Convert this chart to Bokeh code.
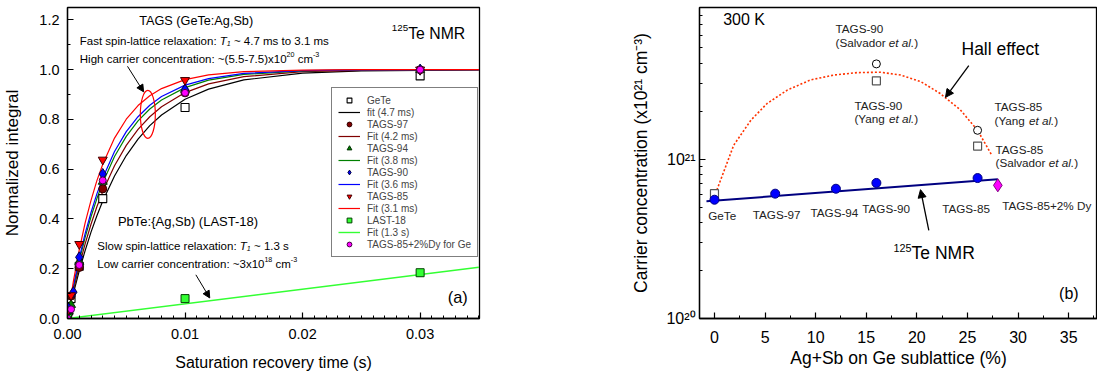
from bokeh.plotting import figure
from bokeh.models import (Label, Arrow, NormalHead, Legend, LegendItem, SingleIntervalTicker,
                          FixedTicker, NumeralTickFormatter, CustomJSTickFormatter, Range1d)
from bokeh.layouts import row
from bokeh.embed import file_html
from bokeh.resources import INLINE

FONT = "Liberation Sans"

# ---------------- data: panel (a) ----------------
gete_t = [0, 0.0001, 0.0003, 0.001, 0.003, 0.01, 0.03]
gete_y = [0.0, 0.03, 0.08, 0.21, 0.482, 0.848, 0.975]
t97_t = [0, 0.0001, 0.0003, 0.001, 0.003, 0.01, 0.03]
t97_y = [0.0, 0.035, 0.09, 0.205, 0.521, 0.907, 1.0]
t94_t = [0, 0.0001, 0.0003, 0.001, 0.003, 0.01, 0.03]
t94_y = [0.0, 0.03, 0.055, 0.228, 0.55, 0.92, 1.0]
t90_t = [0, 0.0001, 0.0005, 0.001, 0.003, 0.01, 0.03]
t90_y = [0.0, 0.04, 0.106, 0.246, 0.581, 0.92, 1.0]
t85_t = [0, 0.0001, 0.0003, 0.001, 0.003, 0.01, 0.03]
t85_y = [0.0, 0.035, 0.093, 0.299, 0.638, 0.958, 1.0]
last_t = [0, 0.01, 0.03]
last_y = [0.0, 0.08, 0.184]
dy_t = [0, 0.0003, 0.001, 0.003, 0.01, 0.03]
dy_y = [0.0, 0.037, 0.215, 0.555, 0.907, 1.0]

fit_t = [0, 0.0005, 0.001, 0.0015, 0.002, 0.0025, 0.003, 0.004, 0.005, 0.006,
         0.007, 0.008, 0.01, 0.012, 0.015, 0.02, 0.025, 0.035]
fit_gete = [0, 0.101, 0.192, 0.273, 0.347, 0.413, 0.472, 0.573, 0.655, 0.721,
            0.775, 0.818, 0.881, 0.922, 0.959, 0.986, 0.995, 0.999]
fit_97 = [0, 0.112, 0.212, 0.300, 0.379, 0.449, 0.511, 0.614, 0.696, 0.760,
          0.811, 0.851, 0.908, 0.943, 0.972, 0.992, 0.997, 1.0]
fit_94 = [0, 0.123, 0.231, 0.326, 0.409, 0.482, 0.546, 0.651, 0.732, 0.794,
          0.842, 0.878, 0.928, 0.958, 0.981, 0.995, 0.999, 1.0]
fit_90 = [0, 0.130, 0.243, 0.341, 0.426, 0.501, 0.565, 0.671, 0.751, 0.811,
          0.857, 0.892, 0.938, 0.964, 0.985, 0.996, 0.999, 1.0]
fit_85 = [0, 0.149, 0.276, 0.384, 0.475, 0.554, 0.620, 0.725, 0.801, 0.856,
          0.895, 0.924, 0.960, 0.979, 0.992, 0.998, 1.0, 1.0]
fit_last_t = [0, 0.035]
fit_last_y = [0.0, 0.206]

legend_labels = ["GeTe", "fit (4.7 ms)", "TAGS-97", "Fit (4.2 ms)", "TAGS-94", "Fit (3.8 ms)",
                 "TAGS-90", "Fit (3.6 ms)", "TAGS-85", "Fit (3.1 ms)", "LAST-18", "Fit (1.3 s)",
                 "TAGS-85+2%Dy for Ge"]

# ---------------- data: panel (b) ----------------
nmr_x = [0, 6, 12, 16, 26]
nmr_n = [5.57e20, 6.08e20, 6.53e20, 7.1e20, 7.62e20]
nmr_fit_x = [-0.79, 28.0]
nmr_fit_n = [5.45e20, 7.48e20]
dy_x = [28]
dy_n = [6.86e20]
hall_circ_x = [16, 26]
hall_circ_n = [3.97e21, 1.52e21]
hall_sq_x = [0, 16, 26]
hall_sq_n = [6.08e20, 3.11e21, 1.21e21]
hall_curve_x = [0.1, 1.9, 3.6, 5.2, 7.2, 9.5, 11.8, 14.1, 16.4, 18.4, 20.4, 22.3, 24.3, 26.0, 27.4]
hall_curve_n = [6.08e20, 1.225e21, 1.76e21, 2.24e21, 2.72e21, 3.15e21, 3.38e21, 3.5e21,
                3.52e21, 3.38e21, 3.07e21, 2.59e21, 2.04e21, 1.52e21, 1.06e21]

# ---------------- helpers ----------------
W = {' ': 278, '!': 278, '(': 333, ')': 333, '+': 584, ',': 278, '-': 333, '.': 278, ':': 278,
     '~': 584, '%': 889, '{': 334, '}': 334, '/': 278,
     'A': 667, 'B': 667, 'C': 722, 'D': 722, 'E': 667, 'F': 611, 'G': 778, 'H': 722, 'I': 278,
     'J': 500, 'K': 667, 'L': 556, 'M': 833, 'N': 722, 'O': 778, 'P': 667, 'Q': 778, 'R': 722,
     'S': 667, 'T': 611, 'U': 722, 'V': 667, 'W': 944, 'X': 667, 'Y': 667, 'Z': 611,
     'a': 556, 'b': 556, 'c': 500, 'd': 556, 'e': 556, 'f': 278, 'g': 556, 'h': 556, 'i': 222,
     'j': 222, 'k': 500, 'l': 222, 'm': 833, 'n': 556, 'o': 556, 'p': 556, 'q': 556, 'r': 333,
     's': 500, 't': 278, 'u': 556, 'v': 500, 'w': 722, 'x': 500, 'y': 500, 'z': 500}


def tw(s, size):
    return sum(W.get(c, 556) for c in s) * size / 1000.0


def rich(p, x, y, runs, size, align="left", color="black", sup_dy=0.38):
    small = 0.62
    widths = []
    for t, st in runs:
        sz = size * small if st in ("sup", "sub", "isub") else size
        widths.append(tw(t, sz))
    off = -sum(widths) / 2 if align == "center" else 0.0
    for (t, st), w in zip(runs, widths):
        sz = size * small if st in ("sup", "sub", "isub") else size
        lead = len(t) - len(t.lstrip(" "))
        txt = t.strip(" ")
        dy = 0.0
        if st == "sup":
            dy = size * sup_dy
        elif st in ("sub", "isub"):
            dy = -size * 0.22
        p.add_layout(Label(x=x, y=y, x_offset=off + tw(" " * lead, sz), y_offset=dy, text=txt,
                           text_font=FONT, text_font_size=f"{sz:.1f}px",
                           text_font_style="italic" if st in ("i", "isub") else "normal",
                           text_baseline="middle", text_align="left", text_color=color))
        off += w


def style_axes(p, tick_size, label_size):
    for ax in p.axis:
        ax.axis_line_width = 1.3
        ax.major_tick_in = 6
        ax.major_tick_out = 0
        ax.minor_tick_in = 3
        ax.minor_tick_out = 0
        ax.major_tick_line_width = 1.2
        ax.minor_tick_line_width = 1.0
        ax.major_label_text_font = FONT
        ax.major_label_text_font_size = tick_size
        ax.major_label_text_color = "black"
        ax.axis_label_text_font = FONT
        ax.axis_label_text_font_style = "normal"
        ax.axis_label_text_font_size = label_size
        ax.axis_label_text_color = "black"
    p.xgrid.visible = False
    p.ygrid.visible = False
    p.outline_line_color = "black"
    p.outline_line_width = 1.3
    p.outline_line_alpha = 1.0
    p.background_fill_color = "white"
    p.border_fill_color = "white"


# ---------------- panel (a) ----------------
p1 = figure(width=600, height=375, x_range=Range1d(0, 0.03505), y_range=Range1d(0, 1.25),
            output_backend="svg", toolbar_location=None, title=None,
            min_border_left=63, min_border_right=121, min_border_top=7, min_border_bottom=55)
style_axes(p1, "14.5px", "16px")
p1.xaxis.ticker = SingleIntervalTicker(interval=0.01, num_minor_ticks=10)
p1.yaxis.ticker = SingleIntervalTicker(interval=0.2, num_minor_ticks=2)
p1.xaxis.formatter = NumeralTickFormatter(format="0.00")
p1.yaxis.formatter = NumeralTickFormatter(format="0.0")
p1.xaxis.axis_label = "Saturation recovery time (s)"
p1.yaxis.axis_label = "Normalized integral"
p1.yaxis.axis_label_text_font_size = "17px"
p1.xaxis.major_label_standoff = 10
p1.xaxis.axis_label_standoff = 12
p1.yaxis.major_label_standoff = 8
p1.yaxis.axis_label_standoff = 14

r_fit_gete = p1.line(fit_t, fit_gete, line_color="black", line_width=1.2)
r_fit_97 = p1.line(fit_t, fit_97, line_color="#800000", line_width=1.2)
r_fit_94 = p1.line(fit_t, fit_94, line_color="#008000", line_width=1.2)
r_fit_90 = p1.line(fit_t, fit_90, line_color="#0000ff", line_width=1.2)
r_fit_85 = p1.line(fit_t, fit_85, line_color="#ff0000", line_width=1.2)
r_fit_last = p1.line(fit_last_t, fit_last_y, line_color="#33ff33", line_width=1.4)

r_gete = p1.scatter(gete_t, gete_y, marker="square", size=8, fill_color="white", line_color="black", line_width=1.1)
r_97 = p1.scatter(t97_t, t97_y, marker="circle", size=8, fill_color="#800000", line_color="#300000")
r_94 = p1.scatter(t94_t, t94_y, marker="triangle", size=9, fill_color="#008000", line_color="#003000")
r_90 = p1.scatter(t90_t, t90_y, marker="diamond", size=11, fill_color="#0000ff", line_color="#000040")
r_85 = p1.scatter(t85_t, t85_y, marker="inverted_triangle", size=9, fill_color="#ff0000", line_color="#400000")
r_last = p1.scatter(last_t, last_y, marker="square", size=8, fill_color="#33ff33", line_color="#004000")
r_dy = p1.scatter(dy_t, dy_y, marker="circle", size=7, fill_color="#ff00ff", line_color="#400040")

rends = [r_gete, r_fit_gete, r_97, r_fit_97, r_94, r_fit_94, r_90, r_fit_90, r_85, r_fit_85,
         r_last, r_fit_last, r_dy]
legend = Legend(items=[LegendItem(label=l, renderers=[r]) for l, r in zip(legend_labels, rends)],
                location=(264, 61), label_text_font=FONT, label_text_font_size="10px",
                glyph_width=22, glyph_height=12, label_height=12, label_standoff=7, spacing=0,
                padding=6, margin=0, border_line_color="black", border_line_width=1,
                background_fill_alpha=1.0)
p1.add_layout(legend)

p1.ellipse(x=[0.006835], y=[0.8208], width=15, height=48, width_units="screen",
           height_units="screen", fill_alpha=0, line_color="red", line_width=1.2)
p1.add_layout(Arrow(end=NormalHead(size=7, fill_color="black", line_color="black"),
                    x_start=0.005105, y_start=1.0136, x_end=0.006473, y_end=0.911, line_width=1))
p1.add_layout(Arrow(end=NormalHead(size=7, fill_color="black", line_color="black"),
                    x_start=0.01092, y_start=0.1756, x_end=0.0121, y_end=0.0826, line_width=1))

rich(p1, 0.01105, 1.197, [("TAGS (GeTe:Ag,Sb)", "")], 12.7, align="center")
rich(p1, 0.001046, 1.1173, [("Fast spin-lattice relaxation: ", ""), ("T", "i"), ("1", "isub"),
                             (" ~ 4.7 ms to 3.1 ms", "")], 11.5)
rich(p1, 0.001046, 1.0443, [("High carrier concentration: ~(5.5-7.5)x10", ""), ("20", "sup"),
                             (" cm", ""), ("-3", "sup")], 11.5)
rich(p1, 0.02759, 1.144, [("125", "sup"), ("Te NMR", "")], 15.8)
rich(p1, 0.004287, 0.3883, [("PbTe:{Ag,Sb) (LAST-18)", "")], 13)
rich(p1, 0.002532, 0.2913, [("Slow spin-lattice relaxation: ", ""), ("T", "i"), ("1", "isub"),
                             (" ~ 1.3 s", "")], 11.5)
rich(p1, 0.002532, 0.2195, [("Low carrier concentration: ~3x10", ""), ("18", "sup"),
                             (" cm", ""), ("-3", "sup")], 11.5)
rich(p1, 0.0332, 0.0866, [("(a)", "")], 16.4, align="center")

# ---------------- panel (b) ----------------
p2 = figure(width=497, height=375, x_range=Range1d(-1.48, 37.85),
            y_range=Range1d(1e20, 10 ** 21.953), y_axis_type="log",
            output_backend="svg", toolbar_location=None, title=None,
            min_border_left=99, min_border_right=0, min_border_top=0, min_border_bottom=57)
style_axes(p2, "16px", "17.5px")
p2.xaxis.ticker = SingleIntervalTicker(interval=5, num_minor_ticks=2)
minors = [k * 10.0 ** e for e in (20, 21) for k in range(2, 10)]
p2.yaxis.ticker = FixedTicker(ticks=[1e20, 1e21], minor_ticks=minors)
p2.yaxis.formatter = CustomJSTickFormatter(code="""
const e = Math.round(Math.log10(tick));
const sup = {"0":"\u2070","1":"\u00b9","2":"\u00b2","3":"\u00b3","4":"\u2074","5":"\u2075",
             "6":"\u2076","7":"\u2077","8":"\u2078","9":"\u2079","-":"\u207b"};
return "10" + String(e).split("").map(c => sup[c]).join("");
""")
p2.xaxis.axis_label = "Ag+Sb on Ge sublattice (%)"
p2.yaxis.axis_label = "Carrier concentration (x10\u00b2\u00b9 cm\u207b\u00b3)"
p2.xaxis.major_label_standoff = 12
p2.xaxis.axis_label_standoff = 2
p2.yaxis.major_label_standoff = 4
p2.yaxis.axis_label_standoff = 12

p2.line(hall_curve_x, hall_curve_n, line_color="#ff3300", line_width=1.6, line_dash="2 2")
p2.line(nmr_fit_x, nmr_fit_n, line_color="#000080", line_width=2)
p2.scatter(hall_circ_x, hall_circ_n, marker="circle", size=8, fill_color="white",
           line_color="black", line_width=1)
p2.scatter(hall_sq_x, hall_sq_n, marker="square", size=8, fill_color="white",
           line_color="#555555", line_width=1.2)
p2.scatter(nmr_x, nmr_n, marker="circle", size=9, fill_color="#0000ff", line_color="#000080")
p2.scatter(dy_x, dy_n, marker="diamond", size=13, fill_color="#ff00ff", line_color="#800080")

p2.add_layout(Arrow(end=NormalHead(size=8, fill_color="black", line_color="black"),
                    x_start=25.13, y_start=10 ** 21.588, x_end=22.83, y_end=10 ** 21.389, line_width=1.3))
p2.add_layout(Arrow(end=NormalHead(size=8, fill_color="black", line_color="black"),
                    x_start=21.18, y_start=10 ** 20.553, x_end=20.36, y_end=10 ** 20.809, line_width=1.3))

LC = "#222222"
rich(p2, 0.86, 10 ** 21.876, [("300 K", "")], 16)
rich(p2, 11.96, 10 ** 21.819, [("TAGS-90", "")], 11.7, color=LC)
rich(p2, 11.96, 10 ** 21.735, [("(Salvador ", ""), ("et al.", "i"), (")", "")], 11.7, color=LC)
rich(p2, 13.83, 10 ** 21.340, [("TAGS-90", "")], 11.7, color=LC)
rich(p2, 13.83, 10 ** 21.256, [("(Yang ", ""), ("et al.", "i"), (")", "")], 11.7, color=LC)
rich(p2, 27.67, 10 ** 21.3296, [("TAGS-85", "")], 11.7, color=LC)
rich(p2, 27.67, 10 ** 21.2457, [("(Yang ", ""), ("et al.", "i"), (")", "")], 11.7, color=LC)
rich(p2, 27.77, 10 ** 21.063, [("TAGS-85", "")], 11.7, color=LC)
rich(p2, 27.77, 10 ** 20.979, [("(Salvador ", ""), ("et al.", "i"), (")", "")], 11.7, color=LC)
rich(p2, -0.62, 10 ** 20.647, [("GeTe", "")], 11.7, color=LC)
rich(p2, 3.78, 10 ** 20.655, [("TAGS-97", "")], 11.7, color=LC)
rich(p2, 9.49, 10 ** 20.664, [("TAGS-94", "")], 11.7, color=LC)
rich(p2, 14.6, 10 ** 20.689, [("TAGS-90", "")], 11.7, color=LC)
rich(p2, 22.5, 10 ** 20.689, [("TAGS-85", "")], 11.7, color=LC)
rich(p2, 28.43, 10 ** 20.710, [("TAGS-85+2% Dy", "")], 11.7, color=LC)
rich(p2, 24.41, 10 ** 21.691, [("Hall effect", "")], 17.5)
rich(p2, 17.69, 10 ** 20.412, [("125", "sup"), ("Te NMR", "")], 17.5, sup_dy=0.3)
rich(p2, 35.02, 10 ** 20.154, [("(b)", "")], 16, align="center")

layout = row(p1, p2)
with open("out.html", "w", encoding="utf-8") as f:
    f.write(file_html(layout, INLINE))
